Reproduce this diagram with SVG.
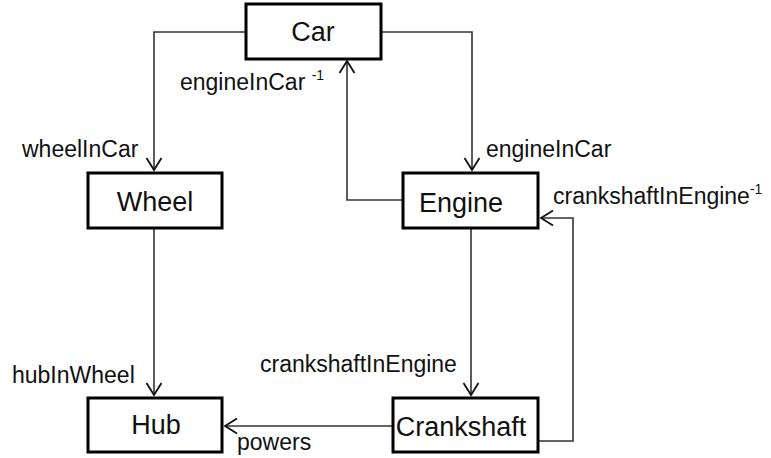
<svg xmlns="http://www.w3.org/2000/svg" width="771" height="458" viewBox="0 0 771 458">
<defs>
<style>
.node rect{fill:#fff;stroke:#000;stroke-width:3}
.node text{font-family:"Liberation Sans",Arial,sans-serif;font-size:27px;fill:#111;text-anchor:middle}
.edge{fill:none;stroke:#333;stroke-width:1.6}
.lbl{font-family:"Liberation Sans",Arial,sans-serif;font-size:23px;fill:#111}
.sup{font-size:14px}
</style>
<marker id="arr" markerUnits="userSpaceOnUse" markerWidth="18" markerHeight="18" viewBox="0 0 18 18" refX="15" refY="9" orient="auto">
<path d="M3,1.5 L15,9 L3,16.5" fill="none" stroke="#111" stroke-width="1.8"/>
</marker>
</defs>
<rect width="771" height="458" fill="#fff"/>
<g id="connectors">
<path class="edge" d="M245,32 H154 V170" marker-end="url(#arr)"/>
<path class="edge" d="M382,32 H472 V170" marker-end="url(#arr)"/>
<path class="edge" d="M402,200 H347 V61" marker-end="url(#arr)"/>
<path class="edge" d="M154,229 V395" marker-end="url(#arr)"/>
<path class="edge" d="M471,228 V395" marker-end="url(#arr)"/>
<path class="edge" d="M539,441 H573 V218 H541" marker-end="url(#arr)"/>
<path class="edge" d="M392,426 H225" marker-end="url(#arr)"/>
<text class="lbl" x="180" y="90">engineInCar <tspan class="sup" dy="-10">-1</tspan></text>
<text class="lbl" x="22" y="157">wheelInCar</text>
<text class="lbl" x="486" y="157">engineInCar</text>
<text class="lbl" x="553" y="204">crankshaftInEngine<tspan class="sup" dy="-10">-1</tspan></text>
<text class="lbl" x="12" y="383">hubInWheel</text>
<text class="lbl" x="260" y="372">crankshaftInEngine</text>
<text class="lbl" x="237" y="450">powers</text>
</g>
<g id="car" class="node"><rect x="246" y="4" width="135" height="55"/><text x="313" y="41">Car</text></g>
<g id="wheel" class="node"><rect x="88" y="173" width="134" height="55"/><text x="155" y="211">Wheel</text></g>
<g id="engine" class="node"><rect x="403" y="173" width="135" height="55"/><text x="461" y="212">Engine</text></g>
<g id="hub" class="node"><rect x="88" y="398" width="134" height="54"/><text x="156" y="434">Hub</text></g>
<g id="crankshaft" class="node"><rect x="393" y="398" width="145" height="54"/><text x="461" y="436">Crankshaft</text></g>
</svg>
